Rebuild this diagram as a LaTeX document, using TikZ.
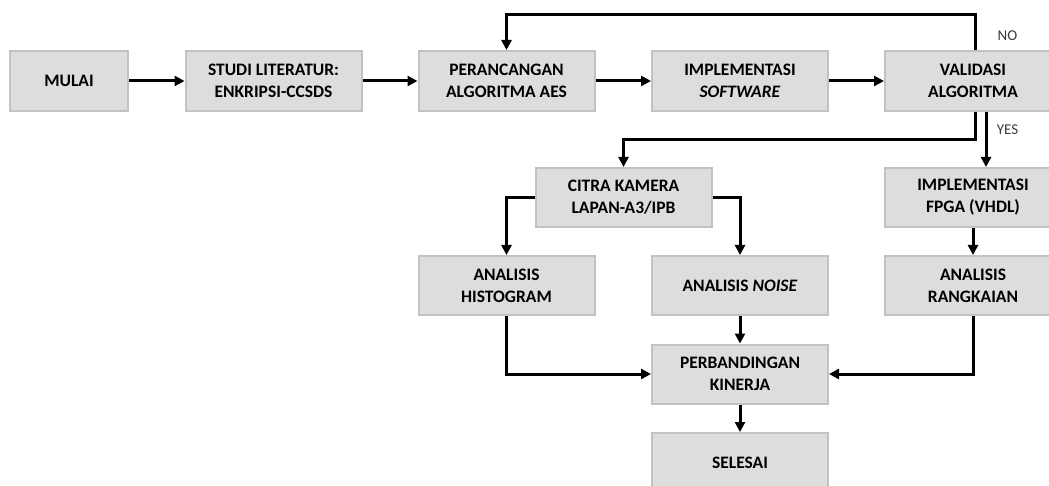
\documentclass[tikz,border=0pt]{standalone}
\usepackage{fontspec}
\setmainfont{Carlito}
\usetikzlibrary{arrows.meta}
\definecolor{boxfill}{HTML}{DDDDDD}
\definecolor{boxline}{HTML}{C2C2C2}
\definecolor{labelgray}{HTML}{3A3A3A}
\begin{document}
\begin{tikzpicture}[x=1pt,y=-1pt,
  procbox/.style={draw=boxline, line width=2pt, fill=boxfill, minimum width=176pt,
    minimum height=59pt, inner sep=0pt, align=center,
    font=\fontsize{17.5}{22}\selectfont\bfseries},
  flow/.style={line width=3pt, -{Triangle[length=10pt,width=10pt]}},
  plainline/.style={line width=3pt},
  branchlabel/.style={font=\fontsize{15}{18}\selectfont, text=labelgray, inner sep=0pt}]
\useasboundingbox (0,0) rectangle (1049,486);
\begin{scope}
\clip (0,0) rectangle (1049,486);
% first row: the main sequence
\node[procbox, minimum width=118pt, minimum height=60pt] (mulai) at (69,81) {MULAI};
\node[procbox, minimum height=60pt] (studi) at (273.5,81) {STUDI LITERATUR:\\ENKRIPSI-CCSDS};
\node[procbox, minimum height=60pt] (peranc) at (506.5,81) {PERANCANGAN\\ALGORITMA AES};
\node[procbox, minimum height=60pt] (impl) at (740,81) {IMPLEMENTASI\\\textit{SOFTWARE}};
\node[procbox, minimum height=60pt] (valid) at (973,81) {VALIDASI\\ALGORITMA};
% second row
\node[procbox] (citra) at (623.5,197.5) {CITRA KAMERA\\LAPAN-A3/IPB};
\node[procbox] (fpga) at (973,197.5) {IMPLEMENTASI\\FPGA (VHDL)};
% third row: analyses
\node[procbox] (hist) at (506.5,285.5) {ANALISIS\\HISTOGRAM};
\node[procbox] (noise) at (740,285.5) {ANALISIS \textit{NOISE}};
\node[procbox] (rangk) at (973,285.5) {ANALISIS\\RANGKAIAN};
% comparison and end
\node[procbox] (perb) at (740,374) {PERBANDINGAN\\KINERJA};
\node[procbox] (seles) at (740,462.5) {SELESAI};
\end{scope}
% branch labels
\node[branchlabel] (nolabel) at (1007.5,35.5) {NO};
\node[branchlabel] (yeslabel) at (1007.5,129.5) {YES};
% helper points for the routed connectors
\coordinate (noturn) at ([xshift=2pt]valid.north);
\coordinate (yesleft) at ([xshift=2pt]valid.south);
\coordinate (yesright) at ([xshift=13pt]valid.south);
% main sequence
\draw[flow] (mulai) -- (studi);
\draw[flow] (studi) -- (peranc);
\draw[flow] (peranc) -- (impl);
\draw[flow] (impl) -- (valid);
% NO: back to the design step
\draw[flow] (noturn) -- (noturn |- 0,15) -| (peranc.north);
% YES: to the image test and to the hardware path
\draw[flow] (yesleft) -- (yesleft |- 0,140) -| (citra.north);
\draw[flow] (yesright) -- (yesright |- fpga.north);
% image analyses
\draw[flow] (citra.west) -| (hist.north);
\draw[flow] (citra.east) -| (noise.north);
\draw[flow] (fpga) -- (rangk);
% gathering into the comparison
\draw[flow] (noise) -- (perb);
\draw[flow] (hist.south) |- (perb.west);
\draw[flow] (rangk.south) |- (perb.east);
\draw[flow] (perb) -- (seles);
\end{tikzpicture}
\end{document}
